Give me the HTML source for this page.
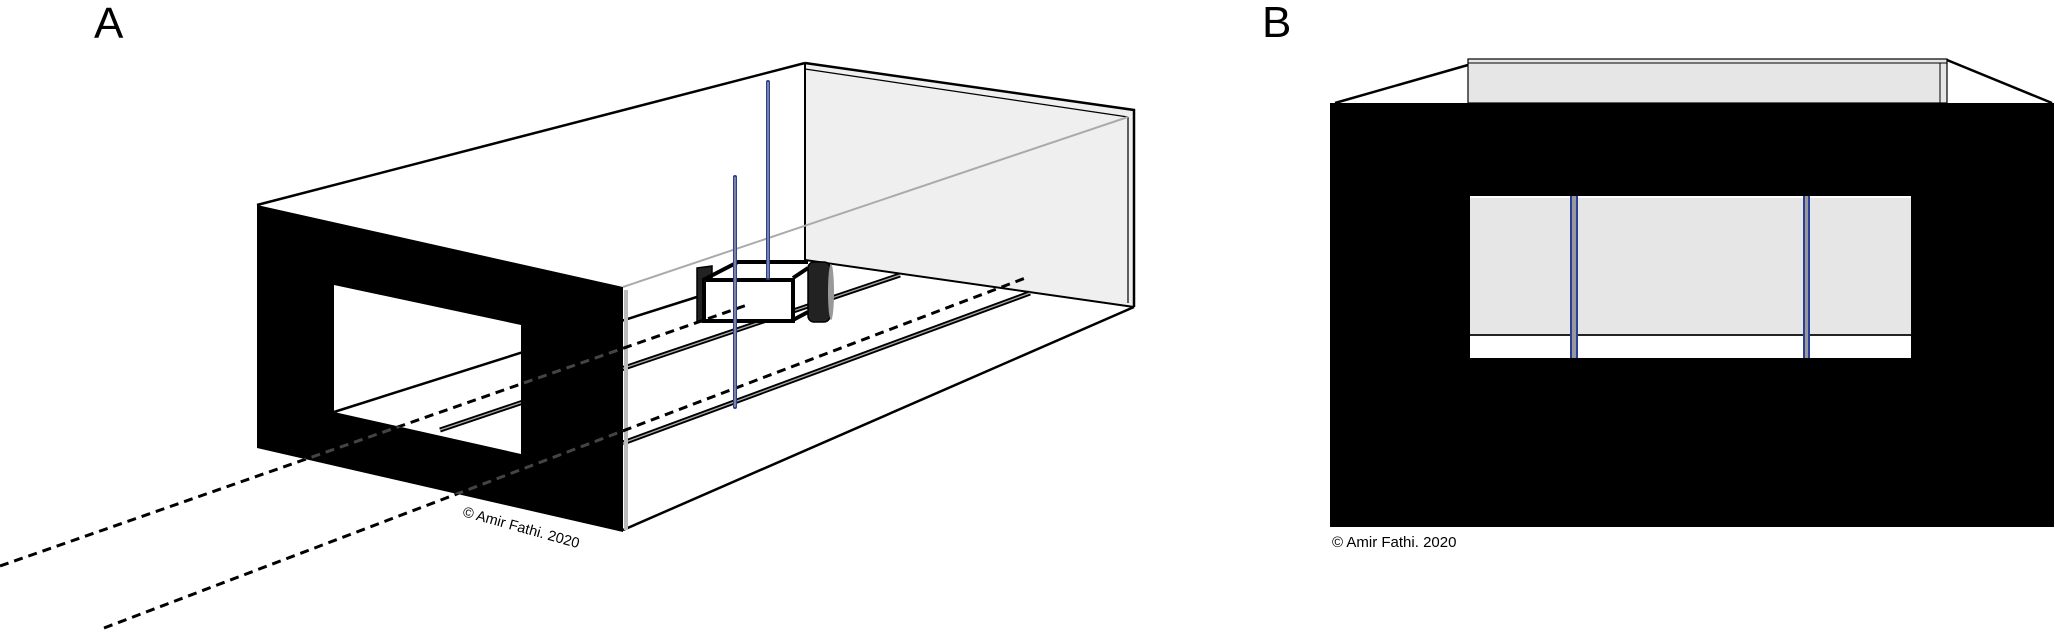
<!DOCTYPE html>
<html><head><meta charset="utf-8"><style>
html,body{margin:0;padding:0;background:#fff;}
svg{display:block}
text{font-family:"Liberation Sans",sans-serif;}
</style></head><body>
<svg width="2055" height="633" viewBox="0 0 2055 633" xmlns="http://www.w3.org/2000/svg">
<defs>
<clipPath id="front"><path d="M257,205 L623,287 L623,532 L257,448 Z M334,285 L334,412 L521,454 L521,325 Z" clip-rule="evenodd"/></clipPath>
</defs>
<!-- Panel A -->
<text x="94" y="38" font-size="44">A</text>
<!-- back wall -->
<polygon points="805,63 1134,110 1134,307 805,260" fill="#efefef"/>
<polyline points="805,63 1134,110 1134,307" fill="none" stroke="#000" stroke-width="2.5"/>
<line x1="805" y1="69" x2="1128" y2="117" stroke="#000" stroke-width="1.2"/>
<line x1="1128" y1="117" x2="1128" y2="303" stroke="#000" stroke-width="1.2"/>
<line x1="805" y1="63" x2="805" y2="260" stroke="#000" stroke-width="2"/>
<line x1="805" y1="260" x2="1134" y2="307" stroke="#000" stroke-width="2"/>
<!-- top edge & gray far line -->
<line x1="257" y1="205" x2="805" y2="63" stroke="#000" stroke-width="2.5"/>
<line x1="623" y1="287" x2="1128" y2="117" stroke="#aaa" stroke-width="2"/>
<!-- bottom right edge -->
<line x1="623" y1="530" x2="1134" y2="307" stroke="#000" stroke-width="2.5"/>
<!-- floor line -->
<line x1="334" y1="412" x2="700" y2="296" stroke="#000" stroke-width="2.5"/>
<!-- rails -->
<line x1="440" y1="430" x2="900" y2="275" stroke="#000" stroke-width="5"/>
<line x1="440" y1="430" x2="900" y2="275" stroke="#aaa" stroke-width="1.3"/>
<line x1="623" y1="443" x2="1030" y2="293" stroke="#000" stroke-width="5"/>
<line x1="623" y1="443" x2="1030" y2="293" stroke="#aaa" stroke-width="1.3"/>
<!-- camera -->
<path d="M697,268 L712,266 L712,322 L697,322 Z" fill="#222" stroke="#000" stroke-width="1.5"/>
<polyline points="703,280 738,262 808,262" fill="none" stroke="#000" stroke-width="4"/>
<line x1="793" y1="278" x2="808" y2="268" stroke="#000" stroke-width="4"/>
<line x1="793" y1="320" x2="808" y2="312" stroke="#000" stroke-width="4"/>
<rect x="704" y="280" width="89" height="41" fill="#fff" stroke="#000" stroke-width="4"/>
<rect x="808" y="262" width="22" height="60" rx="6" fill="#222" stroke="#000" stroke-width="1.5"/>
<ellipse cx="831" cy="292" rx="3" ry="28" fill="#999"/>
<!-- front face -->
<path d="M257,205 L623,287 L623,532 L257,448 Z M334,285 L334,412 L521,454 L521,325 Z" fill="#000" fill-rule="evenodd"/>
<line x1="626" y1="290" x2="626" y2="530" stroke="#bbb" stroke-width="4"/>
<!-- dashed lines -->
<line x1="0" y1="566" x2="747" y2="305" stroke="#000" stroke-width="3" stroke-dasharray="9,6"/>
<line x1="104" y1="628" x2="1028" y2="277" stroke="#000" stroke-width="3" stroke-dasharray="9,6"/>
<g clip-path="url(#front)">
<line x1="0" y1="566" x2="747" y2="305" stroke="#444" stroke-width="3" stroke-dasharray="9,6"/>
<line x1="104" y1="628" x2="1028" y2="277" stroke="#444" stroke-width="3" stroke-dasharray="9,6"/>
</g>
<!-- rods -->
<line x1="735" y1="177" x2="735" y2="407" stroke="#2a3f9a" stroke-width="4" stroke-linecap="round"/>
<line x1="735" y1="177" x2="735" y2="407" stroke="#999" stroke-width="1.5"/>
<line x1="768" y1="82" x2="768" y2="278" stroke="#2a3f9a" stroke-width="4" stroke-linecap="round"/>
<line x1="768" y1="82" x2="768" y2="278" stroke="#999" stroke-width="1.5"/>
<text x="0" y="0" font-size="14.5" transform="translate(462,516) rotate(15.5)">© Amir Fathi. 2020</text>

<!-- Panel B -->
<text x="1262" y="37" font-size="44">B</text>
<rect x="1468" y="59" width="479" height="44" fill="#e6e6e6" stroke="#000" stroke-width="1.2"/>
<line x1="1468" y1="63" x2="1947" y2="63" stroke="#000" stroke-width="1"/>
<line x1="1940" y1="63" x2="1940" y2="103" stroke="#000" stroke-width="1"/>
<line x1="1335" y1="103" x2="1468" y2="65" stroke="#000" stroke-width="2.5"/>
<line x1="1947" y1="60" x2="2052" y2="103" stroke="#000" stroke-width="2.5"/>
<rect x="1330" y="103" width="724" height="424" fill="#000"/>
<rect x="1470" y="196" width="441" height="162" fill="#fff"/>
<rect x="1470" y="198" width="441" height="137" fill="#e6e6e6"/>
<line x1="1470" y1="335" x2="1911" y2="335" stroke="#222" stroke-width="2"/>
<rect x="1570" y="196" width="8" height="162" fill="#2a3f9a"/>
<rect x="1572" y="196" width="4" height="162" fill="#999"/>
<rect x="1803" y="196" width="7" height="162" fill="#2a3f9a"/>
<rect x="1805" y="196" width="3" height="162" fill="#999"/>
<text x="1332" y="547" font-size="15">© Amir Fathi. 2020</text>
</svg>
</body></html>
